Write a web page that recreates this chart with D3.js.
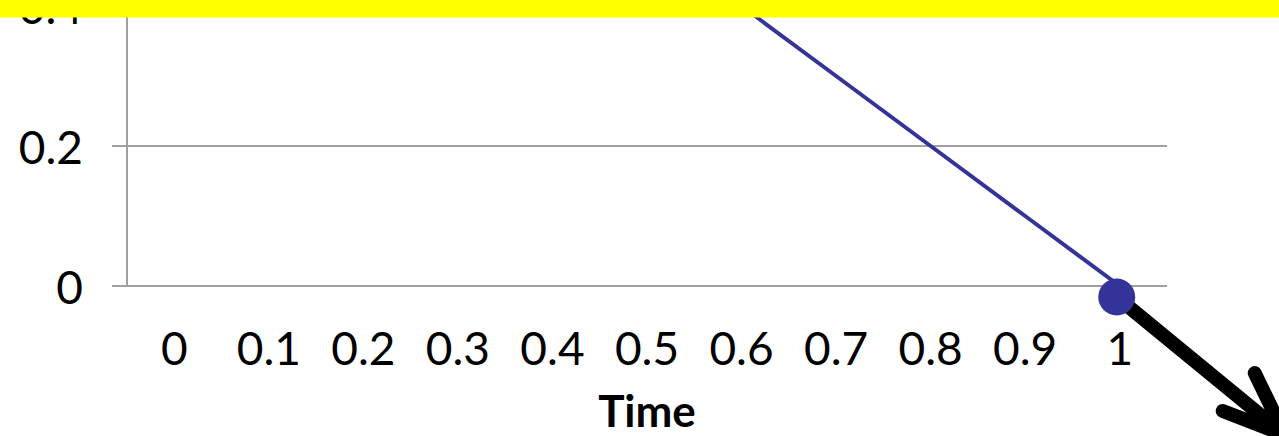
<!DOCTYPE html>
<html><head><meta charset="utf-8">
<script src="https://cdn.jsdelivr.net/npm/d3@7"></script>
<style>
html,body{margin:0;padding:0;background:#fff;overflow:hidden;}
svg{display:block;}
text{font-family:Lato,"Open Sans",sans-serif;fill:#000;}
</style></head>
<body>
<script>
const categories = [0, 0.1, 0.2, 0.3, 0.4, 0.5, 0.6, 0.7, 0.8, 0.9, 1];
const categoryLabels = ["0","0.1","0.2","0.3","0.4","0.5","0.6","0.7","0.8","0.9","1"];
const seriesValues = [1, 0.9, 0.8, 0.7, 0.6, 0.5, 0.4, 0.3, 0.2, 0.1, 0];
const yTicks = [0, 0.2, 0.4];
const yTickLabels = ["0","0.2","0.4"];
const xTitle = "Time";

const W = 1279, H = 436;
const svg = d3.select("body").append("svg").attr("width", W).attr("height", H);

const x = d3.scaleBand().domain(categories).range([127, 1167]).paddingInner(0).paddingOuter(0);
const y = d3.scaleLinear().domain([0, 1]).range([286, -414]);
const xc = d => x(d) + x.bandwidth() / 2;

// gridlines + outside tick marks
svg.append("g").selectAll("line").data(yTicks).join("line")
  .attr("x1", 112).attr("x2", 1167)
  .attr("y1", d => y(d)).attr("y2", d => y(d))
  .attr("stroke", "#a0a0a0").attr("stroke-width", 2);

// vertical axis line
svg.append("line").attr("x1", 127).attr("x2", 127)
  .attr("y1", y(1)).attr("y2", y(0))
  .attr("stroke", "#a0a0a0").attr("stroke-width", 2);

// y labels
svg.append("g").selectAll("text").data(yTicks).join("text")
  .attr("x", 83).attr("y", d => y(d))
  .attr("text-anchor", "end").attr("dominant-baseline", "central")
  .attr("font-size", 46)
  .text((d, i) => yTickLabels[i]);

// x labels
svg.append("g").selectAll("text").data(categories).join("text")
  .attr("x", d => xc(d)).attr("y", 365)
  .attr("text-anchor", "middle")
  .attr("font-size", 46)
  .text((d, i) => categoryLabels[i]);

// x title
svg.append("text").attr("x", (127 + 1167) / 2).attr("y", 427)
  .attr("text-anchor", "middle").attr("font-size", 44).attr("font-weight", "bold")
  .text(xTitle);

// series line
const line = d3.line().x((d, i) => xc(categories[i])).y(d => y(d));
svg.append("path").datum(seriesValues)
  .attr("d", line).attr("fill", "none")
  .attr("stroke", "#333399").attr("stroke-width", 4);

// annotation: dot + arrow
const ax = xc(1) - 3, ay = y(0) + 11;
const tipX = ax + 168, tipY = ay + 138;
svg.append("path")
  .attr("d", `M${ax},${ay}L${tipX},${tipY}M${tipX - 30},${tipY - 62}L${tipX},${tipY}L${tipX - 62},${tipY - 24}`)
  .attr("fill", "none").attr("stroke", "#000").attr("stroke-width", 14)
  .attr("stroke-linecap", "round").attr("stroke-linejoin", "round");
svg.append("circle").attr("cx", ax).attr("cy", ay).attr("r", 18.5).attr("fill", "#333399");

// yellow band on top
svg.append("rect").attr("x", 0).attr("y", 0).attr("width", W).attr("height", 17.5).attr("fill", "#ffff00");
</script>
</body></html>
